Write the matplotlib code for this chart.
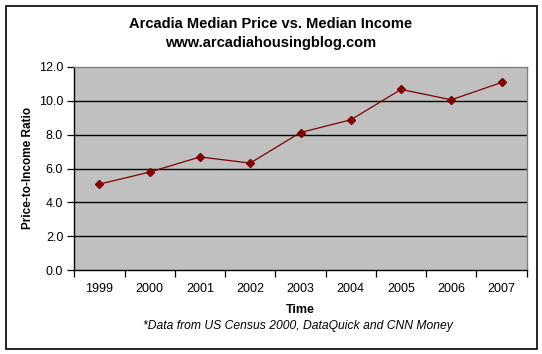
import matplotlib
matplotlib.use("Agg")
import matplotlib.pyplot as plt
from matplotlib.patches import Rectangle

years = ["1999", "2000", "2001", "2002", "2003", "2004", "2005", "2006", "2007"]
ratios = [5.08, 5.79, 6.68, 6.32, 8.12, 8.87, 10.66, 10.05, 11.07]
yticks = [0.0, 2.0, 4.0, 6.0, 8.0, 10.0, 12.0]

plt.rcParams['font.family'] = ['Liberation Sans', 'DejaVu Sans']

W, H = 542, 354
fig = plt.figure(figsize=(W/100, H/100), dpi=100)

# outer border
fig.patches.append(Rectangle((5.5/W, 1 - 348.5/H), (536.5-5.5)/W, (348.5-5.5)/H,
                             transform=fig.transFigure, fill=False,
                             edgecolor='black', linewidth=1.2))

ax = fig.add_axes([74.3/W, 1 - 270.3/H, (526.7-74.3)/W, (270.3-66.7)/H])
ax.set_facecolor('#C0C0C0')

x = list(range(len(years)))
ax.plot(x, ratios, color='#800000', linewidth=0.9, marker='D', markersize=3.8,
        markerfacecolor='#800000', markeredgecolor='#800000', zorder=3)

ax.set_xlim(-0.5, len(years) - 0.5)
ax.set_ylim(0, 12)
ax.set_yticks(yticks)
ax.set_yticklabels([f"{v:.1f}" for v in yticks], fontsize=9)
ax.set_xticks(x)
ax.set_xticklabels(years, fontsize=9)
ax.tick_params(axis='x', length=0, pad=9)
ax.set_xticks([i + 0.5 for i in range(-1, len(years))], minor=True)
ax.tick_params(axis='x', which='minor', length=5, width=0.9, direction='out', color='black')
ax.tick_params(axis='y', length=5, width=0.9, direction='out', pad=3)

for v in yticks[1:-1]:
    ax.axhline(v, color='black', linewidth=1.0, zorder=1)

for s in ['top', 'right']:
    ax.spines[s].set_color('#808080')
    ax.spines[s].set_linewidth(1.0)
for s in ['left', 'bottom']:
    ax.spines[s].set_color('black')
    ax.spines[s].set_linewidth(1.0)

fig.text(271/W, 1 - 24/H, "Arcadia Median Price vs. Median Income", ha='center', va='center',
         fontsize=10.5, fontweight='bold')
fig.text(271/W, 1 - 43/H, "www.arcadiahousingblog.com", ha='center', va='center',
         fontsize=10.5, fontweight='bold')
fig.text(28/W, 1 - 168/H, "Price-to-Income Ratio", ha='center', va='center', rotation=90,
         fontsize=8.5, fontweight='bold')
fig.text(300/W, 1 - 310/H, "Time", ha='center', va='center', fontsize=9, fontweight='bold')
fig.text(297.5/W, 1 - 326/H, "*Data from US Census 2000, DataQuick and CNN Money", ha='center',
         va='center', fontsize=8.7, style='italic')

fig.savefig("out.png", dpi=100)
